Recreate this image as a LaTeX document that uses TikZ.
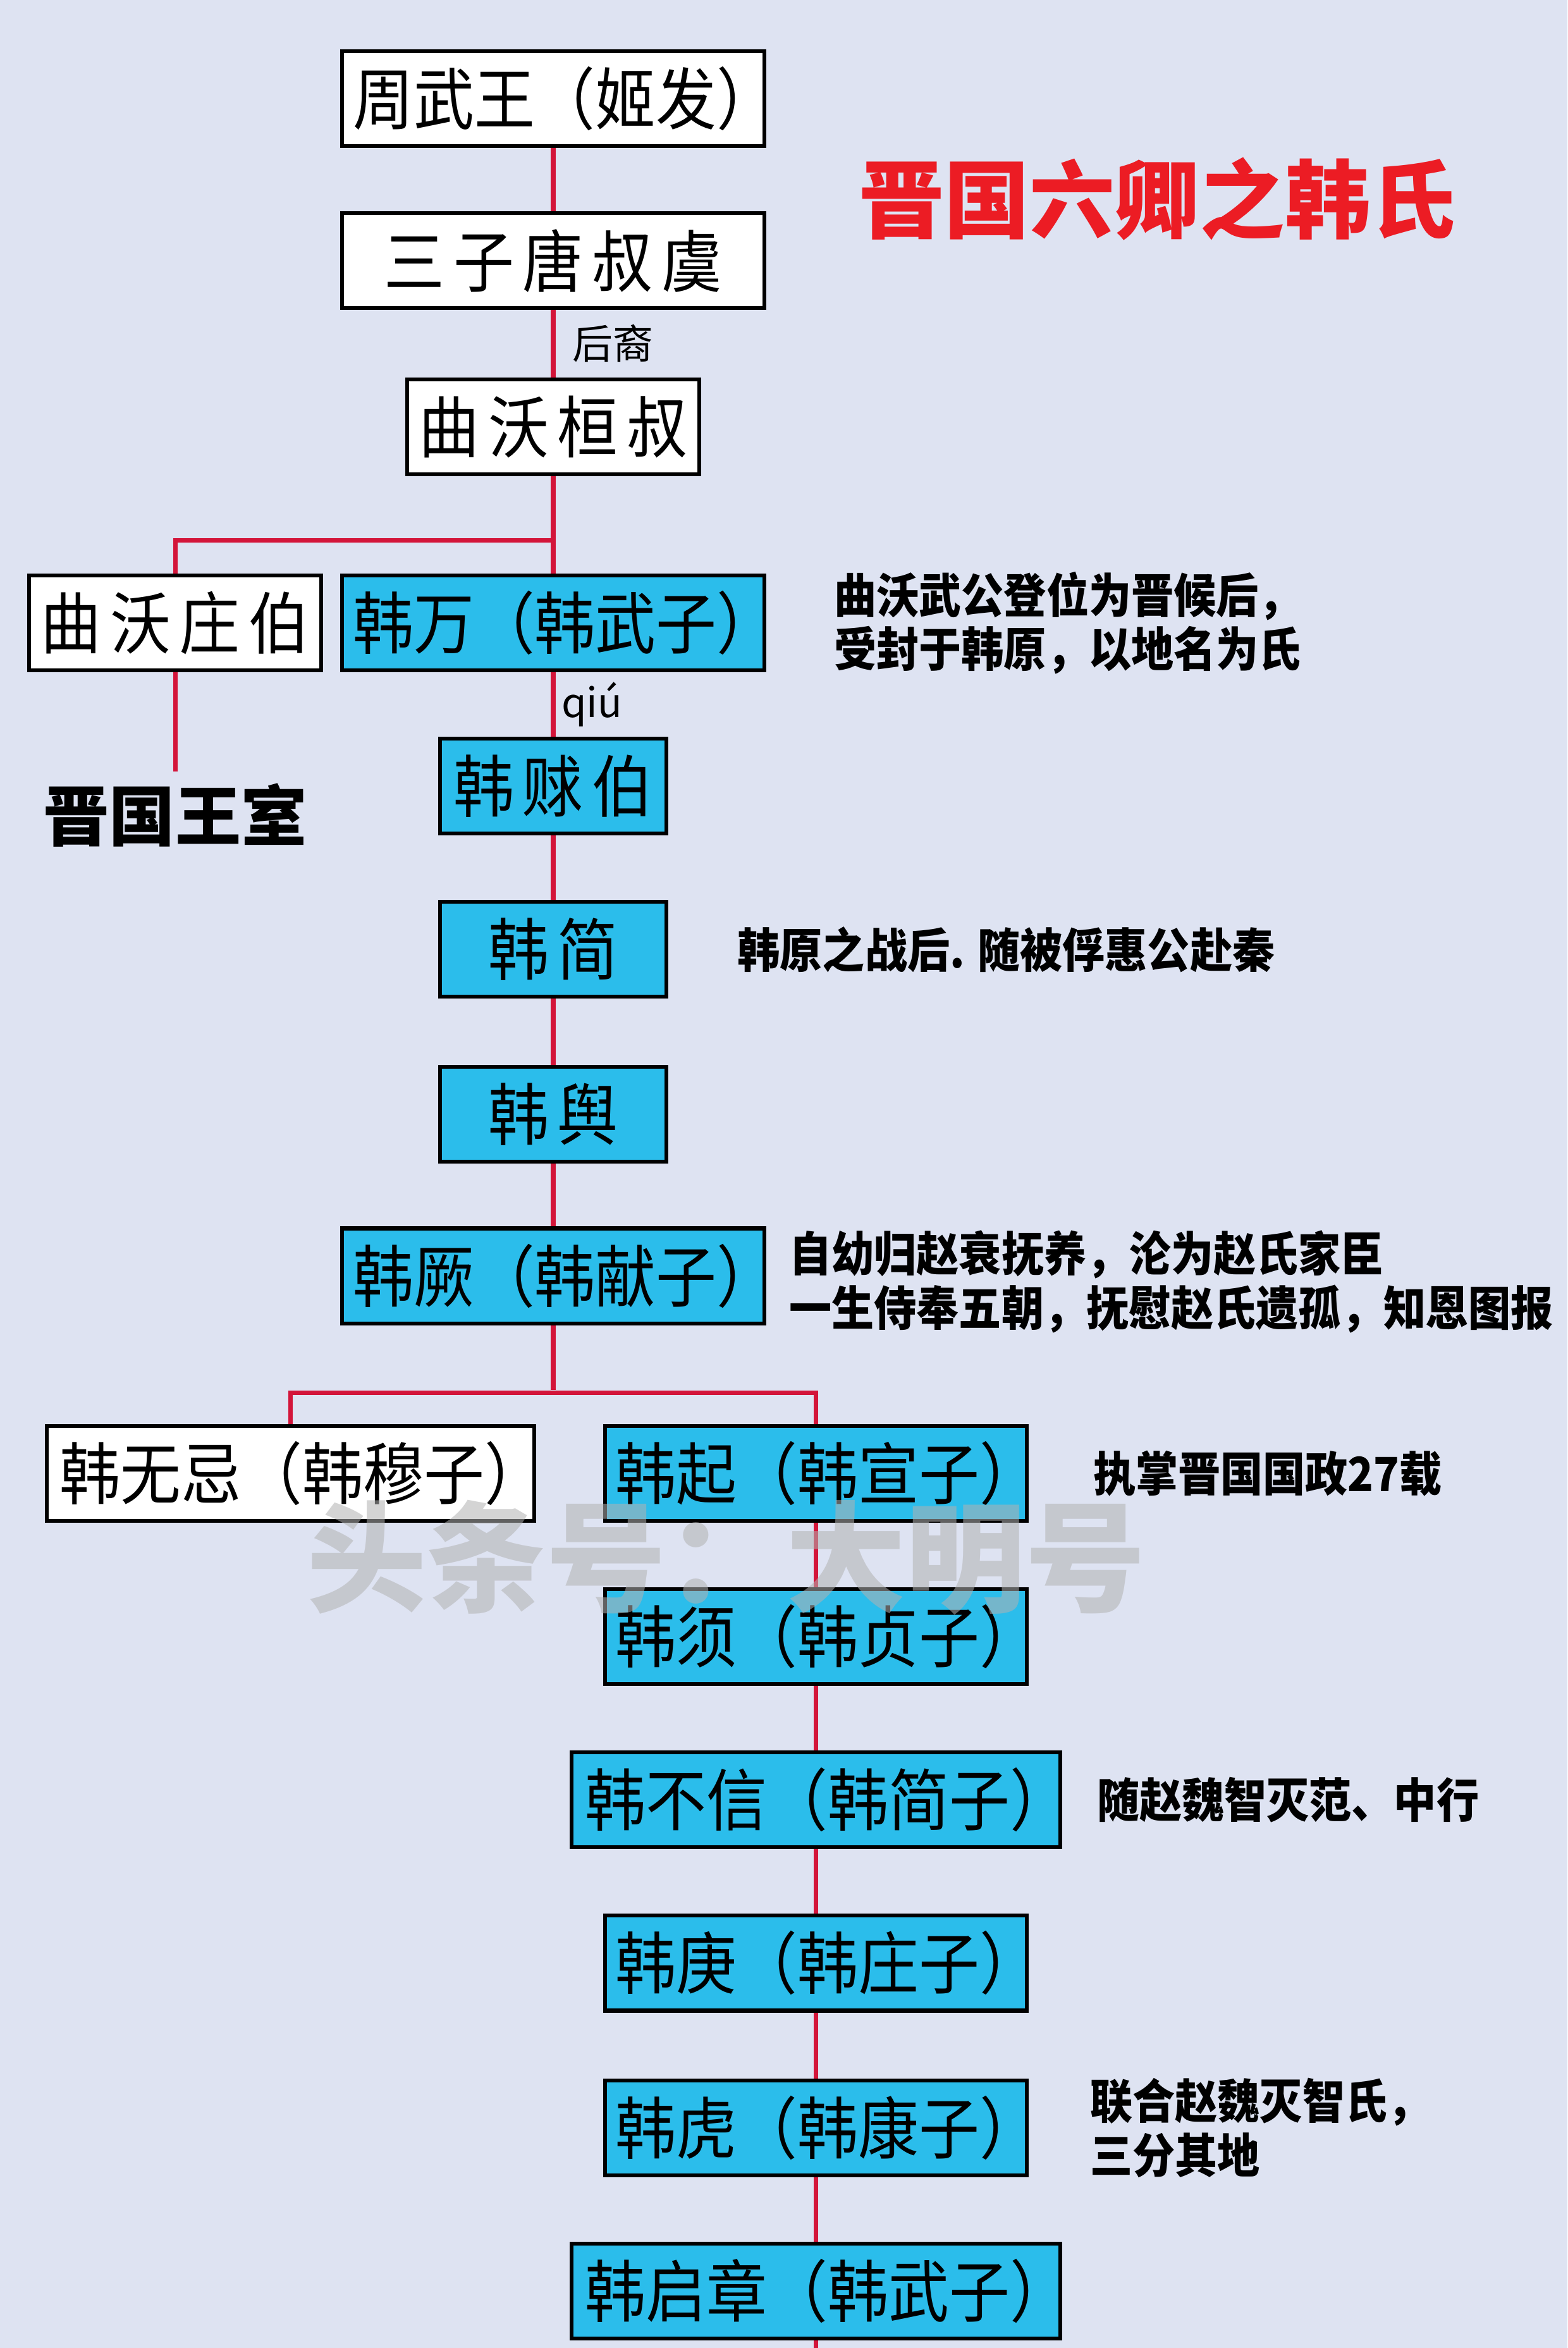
\documentclass[tikz,border=0pt]{standalone}
\usepackage{fontspec}
\setmainfont{Noto Sans CJK SC}
\usetikzlibrary{positioning}
\definecolor{pagebg}{HTML}{DEE3F2}
\definecolor{hanblue}{HTML}{2BBDEB}
\definecolor{linered}{HTML}{D3153A}
\definecolor{titlered}{HTML}{EC1C24}

\begin{document}
\begin{tikzpicture}[x=1pt, y=-1pt,
        box/.style={draw, rectangle, line width=2.6pt, minimum height=63.4pt, inner sep=0pt, align=center, fill=white, font=\fontsize{45}{48}\selectfont\addfontfeature{FakeStretch=0.9}},
        hanbox/.style={box, fill=hanblue},
        wide/.style={font=\fontsize{45}{48}\selectfont\addfontfeatures{FakeStretch=0.9, LetterSpace=13}},
        link/.style={linered, line width=3pt},
        note/.style={anchor=west, align=left, inner sep=0pt, font=\bfseries\fontsize{31.5}{36}\selectfont\addfontfeature{FakeStretch=0.9}}
    ]
        \fill[pagebg] (0,0) rectangle (1047,1568);
        \useasboundingbox (0,0) rectangle (1047,1568);

        \node[font=\bfseries\fontsize{57}{60}\selectfont, text=titlered] (title) at (773,133) {晋国六卿之韩氏};

        % upper line
        \node[box, minimum width=282.4pt] (wuwang) at (369.5,66) {周武王（姬发）\kern-16pt};
        \node[box, wide, minimum width=282.4pt, below=42pt of wuwang] (tangshu) {三子唐叔虞};
        \node[box, wide, minimum width=195.4pt, below=45pt of tangshu] (huanshu) {曲沃桓叔};
        \node[hanbox, minimum width=282.4pt, below=65pt of huanshu] (hanwan) {韩万（韩武子）\kern-16pt};
        \node[box, wide, minimum width=195.4pt, left=11pt of hanwan] (zhuangbo) {曲沃庄伯};
        \node[font=\bfseries\fontsize{44}{46}\selectfont, inner sep=8pt, below=66pt of zhuangbo] (wangshi) {晋国王室};

        \node[hanbox, wide, minimum width=151.4pt, below=43pt of hanwan] (qiubo) {韩赇伯};
        \node[hanbox, wide, minimum width=151.4pt, below=43pt of qiubo] (hanjian) {韩简};
        \node[hanbox, wide, minimum width=151.4pt, below=44pt of hanjian] (hanyu) {韩舆};
        \node[hanbox, minimum width=282.4pt, below=42pt of hanyu] (hanjue) {韩厥（韩献子）\kern-16pt};

        % lower line
        \node[hanbox, minimum width=281.4pt, below=66pt of hanjue, xshift=175.5pt] (hanqi) {韩起（韩宣子）\kern-16pt};
        \node[box, minimum width=325.4pt, left=45pt of hanqi] (wuji) {韩无忌（韩穆子）\kern-16pt};
        \node[hanbox, minimum width=281.4pt, below=43pt of hanqi] (hanxu) {韩须（韩贞子）\kern-16pt};
        \node[hanbox, minimum width=326.4pt, below=43pt of hanxu] (buxin) {韩不信（韩简子）\kern-16pt};
        \node[hanbox, minimum width=281.4pt, below=43pt of buxin] (hangeng) {韩庚（韩庄子）\kern-16pt};
        \node[hanbox, minimum width=281.4pt, below=44pt of hangeng] (hanhu) {韩虎（韩康子）\kern-16pt};
        \node[hanbox, minimum width=326.4pt, below=43pt of hanhu] (qizhang) {韩启章（韩武子）\kern-16pt};

        % connectors
        \draw[link] (wuwang) -- (tangshu);
        \draw[link] (tangshu) -- node[midway, right, xshift=8pt, text=black, font=\fontsize{27}{28}\selectfont] {后裔} (huanshu);
        \draw[link] (huanshu) -- (hanwan);
        \draw[link] (zhuangbo.north) -- ++(0,-22) -| (huanshu.south);
        \draw[link] (zhuangbo) -- (wangshi);
        \draw[link] (hanwan) -- node[midway, right, inner sep=4pt, text=black, font=\fontsize{27}{28}\selectfont] {qiú} (qiubo);
        \draw[link] (qiubo) -- (hanjian);
        \draw[link] (hanjian) -- (hanyu);
        \draw[link] (hanyu) -- (hanjue);
        \draw[link] (hanjue.south) -- ++(0,43);
        \draw[link] (wuji.north) -- ++(0,-21) -| (hanqi.north);
        \draw[link] (hanqi) -- (hanxu);
        \draw[link] (hanxu) -- (buxin);
        \draw[link] (buxin) -- (hangeng);
        \draw[link] (hangeng) -- (hanhu);
        \draw[link] (hanhu) -- (qizhang);
        \draw[link] (qizhang.south) -- ++(0,10);

        % notes
        \node[note, right=45pt of hanwan] (wannote) {曲沃武公登位为晋候后，\\受封于韩原，以地名为氏};
        \node[note, right=46pt of hanjian] (jiannote) {韩原之战后. 随被俘惠公赴秦};
        \node[note, right=15pt of hanjue, yshift=-4pt] (juenote) {自幼归赵衰抚养，沦为赵氏家臣\\一生侍奉五朝，抚慰赵氏遗孤，知恩图报};
        \node[note, right=43pt of hanqi] (qinote) {执掌晋国国政27载};
        \node[note, right=23pt of buxin] (buxinnote) {随赵魏智灭范、中行};
        \node[note, right=41pt of hanhu] (hunote) {联合赵魏灭智氏，\\三分其地};

        % watermark
        \node[font=\bfseries\fontsize{80}{84}\selectfont, text=gray!60, opacity=0.55] (mark) at (485,1040) {头条号：大明号};
    \end{tikzpicture}
\end{document}
